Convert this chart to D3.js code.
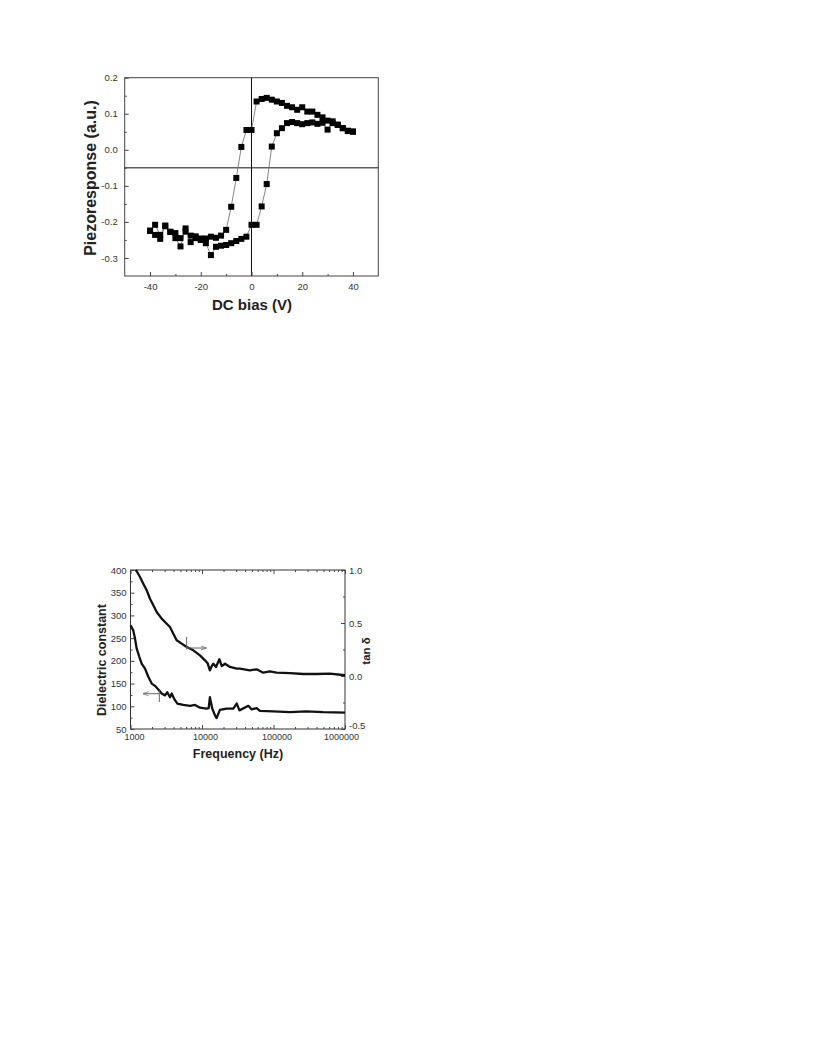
<!DOCTYPE html>
<html>
<head>
<meta charset="utf-8">
<script src="https://cdn.jsdelivr.net/npm/d3@7"></script>
<style>
  html, body { margin: 0; padding: 0; background: #fff; }
  svg { display: block; }
  text { font-family: "Liberation Sans", Arial, sans-serif; }
</style>
</head>
<body>
<script>
// ---------------- Data: piezoresponse hysteresis loop ----------------
const biasDown = [40, 38, 36, 34, 32, 30, 28, 26, 24, 22, 20, 18, 16, 14, 12, 10, 8, 6, 4, 2, 0,
  -2, -4, -6, -8, -10, -12, -14, -16, -18, -20, -22, -24, -26, -28, -30, -32, -34, -36, -38, -40];
const piezoDown = [0.051, 0.053, 0.060, 0.069, 0.074, 0.081, 0.090, 0.097, 0.106, 0.106, 0.118,
  0.111, 0.118, 0.122, 0.130, 0.134, 0.139, 0.144, 0.141, 0.134, 0.055,
  0.055, 0.008, -0.078, -0.158, -0.222, -0.238, -0.244, -0.241, -0.246, -0.246,
  -0.240, -0.256, -0.218, -0.268, -0.245, -0.228, -0.212, -0.236, -0.208, -0.225];

const biasUp = [-40, -38, -36, -34, -32, -30, -28, -26, -24, -22, -20, -18, -16, -14, -12, -10, -8, -6, -4, -2, 0,
  2, 4, 6, 8, 10, 12, 14, 16, 18, 20, 22, 24, 26, 28, 30, 32, 34, 36, 38, 40];
const piezoUp = [-0.224, -0.236, -0.247, -0.210, -0.227, -0.231, -0.245, -0.227, -0.238, -0.245, -0.250,
  -0.259, -0.292, -0.269, -0.266, -0.264, -0.259, -0.253, -0.247, -0.241, -0.208,
  -0.208, -0.157, -0.095, 0.009, 0.046, 0.060, 0.074, 0.077, 0.074, 0.071,
  0.074, 0.076, 0.072, 0.075, 0.056, 0.079, 0.070, 0.060, 0.052, 0.050];

const biasTicks = [-40, -20, 0, 20, 40];
const biasTickLabels = ["-40", "-20", "0", "20", "40"];
const biasMinorTicks = [-30, -10, 10, 30];
const piezoTicks = [0.2, 0.1, 0.0, -0.1, -0.2, -0.3];
const piezoTickLabels = ["0.2", "0.1", "0.0", "-0.1", "-0.2", "-0.3"];
const piezoMinorTicks = [0.15, 0.05, -0.05, -0.15, -0.25];

// ---------------- Data: dielectric spectrum ----------------
const lossFreq = [1180, 1221, 1358, 1510, 1685, 1873, 2086, 2323, 2730, 3210, 3570, 3970, 4420, 5200,
  6110, 7560, 9360, 11000, 12000, 12900, 13600, 14400, 15700, 17500, 18900, 21000, 24600,
  30600, 34000, 46500, 58000, 72000, 89000, 110000, 170000, 260000, 400000, 615000, 1000000];
const lossTan = [1.0, 0.988, 0.934, 0.871, 0.808, 0.729, 0.667, 0.604, 0.541, 0.493, 0.462, 0.399, 0.337, 0.305,
  0.274, 0.242, 0.195, 0.148, 0.120, 0.054, 0.090, 0.116, 0.085, 0.158, 0.094, 0.116, 0.085,
  0.069, 0.069, 0.054, 0.063, 0.031, 0.044, 0.031, 0.028, 0.019, 0.019, 0.022, 0.007];

const permFreq = [1000, 1094, 1156, 1221, 1328, 1433, 1595, 1775, 1980, 2200, 2450, 2730, 3040, 3270,
  3570, 3770, 4060, 4520, 5480, 6790, 7980, 9360, 11600, 12400, 12900, 13900, 15200, 16000,
  17800, 22000, 27400, 30600, 33400, 44600, 49500, 58000, 64600, 98700, 170000, 290000, 495000, 1000000];
const permEps = [278, 267, 249, 227, 209, 194, 183, 165, 150, 145, 137, 128, 124, 131,
  120, 128, 117, 106, 103, 101, 103, 97, 95, 96, 120, 95, 80, 74,
  92, 95, 95, 106, 91, 101, 93, 96, 90, 89, 87, 89, 87, 86];

const epsTicks = [50, 100, 150, 200, 250, 300, 350, 400];
const epsMinorTicks = [75, 125, 175, 225, 275, 325, 375];
const tanTicks = [-0.5, 0.0, 0.5, 1.0];
const tanTickLabels = ["-0.5", "0.0", "0.5", "1.0"];
const tanMinorTicks = [-0.25, 0.25, 0.75];
const freqTicks = [1000, 10000, 100000, 1000000];
const freqTickLabels = ["1000", "10000", "100000", "1000000"];

// arrow annotations (data coordinates)
const lossArrow = { f0: 6100, f1: 11400, v: 0.264, vTop: 0.368, vBot: 0.252 };
const permArrow = { f0: 2530, f1: 1510, v: 127.7, vTop: 135, vBot: 109.5 };

// ---------------- Drawing ----------------
const W = 819, H = 1059;
const svg = d3.select("body").append("svg").attr("width", W).attr("height", H);
svg.append("rect").attr("width", W).attr("height", H).attr("fill", "#fff");

const defs = svg.append("defs");
defs.append("marker").attr("id", "arr").attr("viewBox", "0 0 10 10")
  .attr("refX", 9).attr("refY", 5).attr("markerWidth", 6).attr("markerHeight", 6)
  .attr("orient", "auto")
  .append("path").attr("d", "M0,1.5 L10,5 L0,8.5").attr("fill", "none")
  .attr("stroke", "#666").attr("stroke-width", 1.2);

// ===== Chart 1 =====
const p1 = { left: 124.7, right: 378.3, top: 77.7, bottom: 276 };
const x1 = d3.scaleLinear().domain([-50, 50]).range([p1.left, p1.right]);
const y1 = d3.scaleLinear().domain([-0.35, 0.2]).range([p1.bottom, p1.top]);
const g1 = svg.append("g");

g1.append("rect").attr("x", p1.left).attr("y", p1.top)
  .attr("width", p1.right - p1.left).attr("height", p1.bottom - p1.top)
  .attr("fill", "none").attr("stroke", "#444").attr("stroke-width", 1);

g1.append("line").attr("x1", x1(0)).attr("x2", x1(0)).attr("y1", p1.top).attr("y2", p1.bottom)
  .attr("stroke", "#111").attr("stroke-width", 1);
g1.append("line").attr("x1", p1.left).attr("x2", p1.right).attr("y1", y1(-0.05)).attr("y2", y1(-0.05))
  .attr("stroke", "#111").attr("stroke-width", 1);

function styleAxis(sel, fs) {
  sel.select(".domain").remove();
  sel.selectAll(".tick line").attr("stroke", "#444");
  sel.selectAll(".tick text").attr("fill", "#333").attr("font-size", fs);
}

g1.append("g").attr("transform", `translate(0,${p1.bottom})`)
  .call(d3.axisBottom(x1).tickValues(biasTicks).tickSize(-4).tickPadding(7)
    .tickFormat((d, i) => biasTickLabels[i]))
  .call(s => styleAxis(s, 9.5));
g1.append("g").attr("transform", `translate(0,${p1.bottom})`)
  .call(d3.axisBottom(x1).tickValues(biasMinorTicks).tickSize(-2).tickFormat(""))
  .call(s => styleAxis(s, 9));
g1.append("g").attr("transform", `translate(${p1.left},0)`)
  .call(d3.axisLeft(y1).tickValues(piezoTicks).tickSize(-4).tickPadding(7)
    .tickFormat((d, i) => piezoTickLabels[i]))
  .call(s => styleAxis(s, 9.5));
g1.append("g").attr("transform", `translate(${p1.left},0)`)
  .call(d3.axisLeft(y1).tickValues(piezoMinorTicks).tickSize(-2).tickFormat(""))
  .call(s => styleAxis(s, 9));

const line1 = d3.line().x(d => x1(d[0])).y(d => y1(d[1]));
const down = biasDown.map((b, i) => [b, piezoDown[i]]);
const up = biasUp.map((b, i) => [b, piezoUp[i]]);
[down, up].forEach(series => {
  g1.append("path").datum(series).attr("d", line1)
    .attr("fill", "none").attr("stroke", "#777").attr("stroke-width", 0.9);
});
const ms = 6;
[down, up].forEach(series => {
  g1.append("g").selectAll("rect").data(series).join("rect")
    .attr("x", d => x1(d[0]) - ms / 2).attr("y", d => y1(d[1]) - ms / 2)
    .attr("width", ms).attr("height", ms).attr("fill", "#000");
});

g1.append("text").attr("transform", `translate(96,178) rotate(-90)`)
  .attr("text-anchor", "middle").attr("font-size", 16).attr("font-weight", "bold")
  .attr("fill", "#222").text("Piezoresponse (a.u.)");
g1.append("text").attr("x", 252).attr("y", 310)
  .attr("text-anchor", "middle").attr("font-size", 15).attr("font-weight", "bold")
  .attr("fill", "#222").text("DC bias (V)");

// ===== Chart 2 =====
const p2 = { left: 130.5, right: 345, top: 570, bottom: 729 };
const x2 = d3.scaleLog().domain([1000, 1000000]).range([p2.left, p2.right]);
const yL = d3.scaleLinear().domain([50, 400]).range([p2.bottom, p2.top]);
const yR = d3.scaleLinear().domain([-0.5, 1.0]).range([p2.bottom, p2.top]);
const g2 = svg.append("g");

g2.append("rect").attr("x", p2.left).attr("y", p2.top)
  .attr("width", p2.right - p2.left).attr("height", p2.bottom - p2.top)
  .attr("fill", "none").attr("stroke", "#333").attr("stroke-width", 1);

const logMinor = x2.ticks().filter(t => freqTicks.indexOf(t) < 0);

const xAx = g2.append("g").attr("transform", `translate(0,${p2.bottom})`)
  .call(d3.axisBottom(x2).tickValues(freqTicks).tickSize(-4).tickPadding(5)
    .tickFormat((d, i) => freqTickLabels[i]))
  .call(s => styleAxis(s, 9));
// nudge end labels inward like the original
xAx.selectAll(".tick text").attr("dx", (d, i) => i === 0 ? 3.5 : (i === freqTicks.length - 1 ? -4 : 3));
g2.append("g").attr("transform", `translate(0,${p2.bottom})`)
  .call(d3.axisBottom(x2).tickValues(logMinor).tickSize(-2).tickFormat(""))
  .call(s => styleAxis(s, 9));
g2.append("g").attr("transform", `translate(0,${p2.top})`)
  .call(d3.axisTop(x2).tickValues(freqTicks).tickSize(-4).tickFormat(""))
  .call(s => styleAxis(s, 9));
g2.append("g").attr("transform", `translate(0,${p2.top})`)
  .call(d3.axisTop(x2).tickValues(logMinor).tickSize(-2).tickFormat(""))
  .call(s => styleAxis(s, 9));

g2.append("g").attr("transform", `translate(${p2.left},0)`)
  .call(d3.axisLeft(yL).tickValues(epsTicks).tickSize(-4).tickPadding(4))
  .call(s => styleAxis(s, 9.5));
g2.append("g").attr("transform", `translate(${p2.left},0)`)
  .call(d3.axisLeft(yL).tickValues(epsMinorTicks).tickSize(-2).tickFormat(""))
  .call(s => styleAxis(s, 9));
const rAx = g2.append("g").attr("transform", `translate(${p2.right},0)`)
  .call(d3.axisRight(yR).tickValues(tanTicks).tickSize(-4).tickPadding(4)
    .tickFormat((d, i) => tanTickLabels[i]))
  .call(s => styleAxis(s, 9.5));
// lift the bottom right label so it clears the last frequency label
rAx.selectAll(".tick text").attr("dy", (d, i) => i === 0 ? "-0.05em" : "0.32em");
g2.append("g").attr("transform", `translate(${p2.right},0)`)
  .call(d3.axisRight(yR).tickValues(tanMinorTicks).tickSize(-2).tickFormat(""))
  .call(s => styleAxis(s, 9));

const lossLine = d3.line().x((d, i) => x2(lossFreq[i])).y(d => yR(d));
const permLine = d3.line().x((d, i) => x2(permFreq[i])).y(d => yL(d));
g2.append("path").datum(lossTan).attr("d", lossLine)
  .attr("fill", "none").attr("stroke", "#111").attr("stroke-width", 2.3).attr("stroke-linejoin", "round");
g2.append("path").datum(permEps).attr("d", permLine)
  .attr("fill", "none").attr("stroke", "#111").attr("stroke-width", 2.3).attr("stroke-linejoin", "round");

function drawArrow(a, ys) {
  g2.append("line").attr("x1", x2(a.f0)).attr("x2", x2(a.f0))
    .attr("y1", ys(a.vTop)).attr("y2", ys(a.vBot)).attr("stroke", "#666").attr("stroke-width", 1);
  g2.append("line").attr("x1", x2(a.f0)).attr("x2", x2(a.f1))
    .attr("y1", ys(a.v)).attr("y2", ys(a.v)).attr("stroke", "#666").attr("stroke-width", 1)
    .attr("marker-end", "url(#arr)");
}
drawArrow(lossArrow, yR);
drawArrow(permArrow, yL);

g2.append("text").attr("transform", `translate(105.5,660) rotate(-90)`)
  .attr("text-anchor", "middle").attr("font-size", 12.5).attr("font-weight", "bold")
  .attr("fill", "#222").text("Dielectric constant");
g2.append("text").attr("x", 238).attr("y", 758)
  .attr("text-anchor", "middle").attr("font-size", 12.5).attr("font-weight", "bold")
  .attr("fill", "#222").text("Frequency (Hz)");
g2.append("text").attr("transform", `translate(370,651) rotate(-90)`)
  .attr("text-anchor", "middle").attr("font-size", 11.5).attr("font-weight", "bold")
  .attr("fill", "#222").text("tan δ");
</script>
</body>
</html>
